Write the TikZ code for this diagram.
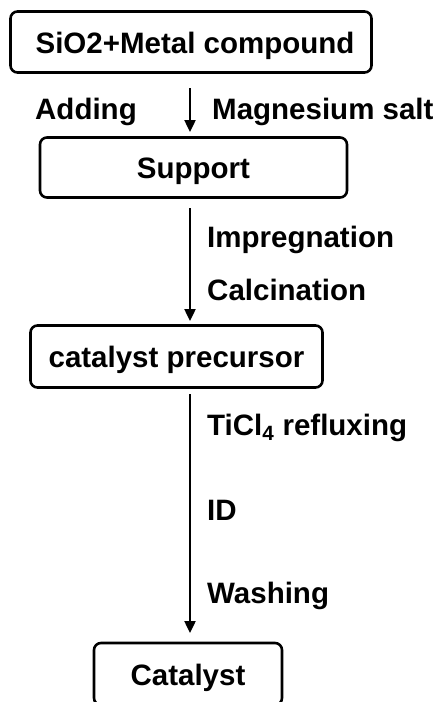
\documentclass[tikz,border=0pt]{standalone}
\usepackage{fontspec}
\setmainfont{Liberation Sans}
\usetikzlibrary{arrows.meta}
\tikzset{
  stepbox/.style={draw, line width=2.6pt, rounded corners=7pt, inner sep=0pt, text height=22pt, text depth=0pt, font=\fontsize{29.5}{34}\selectfont\bfseries},
  lbl/.style={anchor=base west, inner sep=0pt, font=\fontsize{29.5}{34}\selectfont\bfseries},
  arr/.style={line width=2.4pt, -{Triangle[width=11pt,length=12pt]}}
}
\begin{document}
\begin{tikzpicture}[x=1pt,y=-1pt]
\useasboundingbox (0,0) rectangle (436,702);
\clip (0,0) rectangle (436,702);
\node[stepbox, minimum width=361pt, minimum height=61pt] (b1) at (191,42) {\hspace*{8pt}SiO2+Metal compound};
\node[stepbox, minimum width=307pt, minimum height=60pt] (b2) at (193.5,167.5) {Support};
\node[stepbox, minimum width=292pt, minimum height=62pt] (b3) at (176.5,356.5) {catalyst precursor};
\node[stepbox, minimum width=188pt, minimum height=62pt] (b4) at (188,674) {Catalyst};
\coordinate (s1) at (190,88);
\coordinate (e1) at (190,132);
\coordinate (s2) at (190,208);
\coordinate (e2) at (190,321);
\coordinate (s3) at (190,394);
\coordinate (e3) at (190,633);
\draw[arr] (s1) -- (e1);
\draw[arr] (s2) -- (e2);
\draw[arr] (s3) -- (e3);
\node[lbl] (l1) at (35,119) {Adding};
\node[lbl] (l2) at (212,119) {Magnesium salt};
\node[lbl] (l3) at (207,247) {Impregnation};
\node[lbl] (l4) at (207,300) {Calcination};
\node[lbl] (l5) at (207,435) {TiCl\textsubscript{4} refluxing};
\node[lbl] (l6) at (207,520) {ID};
\node[lbl] (l7) at (207,603) {Washing};
\end{tikzpicture}
\end{document}
